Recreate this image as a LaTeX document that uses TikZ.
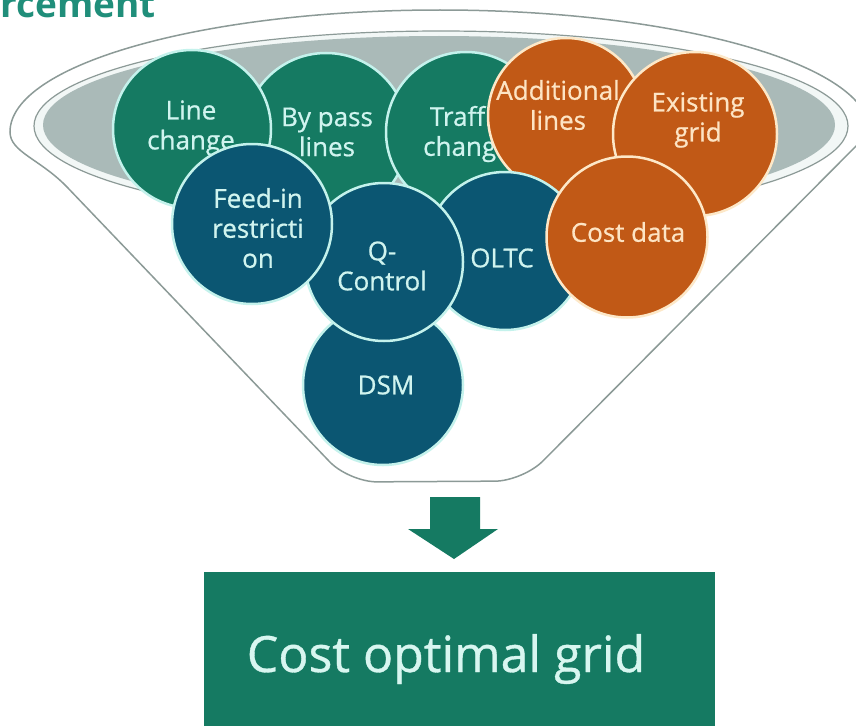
\documentclass[tikz,border=0pt]{standalone}
\usepackage{fontspec}
\setmainfont{Open Sans}
\newfontfamily\ballfont{Open Sans}[FakeBold=0.7]
\definecolor{cgreen}{RGB}{21,122,98}
\definecolor{cblue}{RGB}{11,86,114}
\definecolor{corange}{RGB}{193,89,22}
\definecolor{cyanline}{RGB}{196,242,236}
\definecolor{creamline}{RGB}{253,232,200}
\definecolor{cyantext}{RGB}{208,244,239}
\definecolor{peachtext}{RGB}{253,228,196}
\definecolor{funnelline}{RGB}{140,154,151}
\definecolor{grayfill}{RGB}{170,186,184}
\definecolor{innerfill}{RGB}{242,247,246}
\definecolor{titlegreen}{RGB}{32,142,122}
\definecolor{boxtext}{RGB}{216,246,240}
\tikzset{
  ball/.style={circle, minimum size=160pt, inner sep=0pt, line width=2.5pt},
  gball/.style={ball, fill=cgreen, draw=cyanline},
  bball/.style={ball, fill=cblue, draw=cyanline},
  oball/.style={ball, fill=corange, draw=creamline},
  btext/.style={align=center, inner sep=0pt, font=\ballfont\fontsize{26}{30}\selectfont, text=cyantext},
  otext/.style={btext, text=peachtext},
  funnelstroke/.style={draw=funnelline, line width=1.5pt}
}
\begin{document}
\begin{tikzpicture}[x=1pt,y=-1pt]
\useasboundingbox (0,0) rectangle (856,725);
\clip (0,0) rectangle (856,725);

% title fragment
\node[anchor=base west, inner sep=0pt, font=\fontsize{37}{37}\selectfont\bfseries, text=titlegreen] (title) at (0,18) {rcement};

% funnel outline
\path[funnelstroke, fill=white] (67,187) .. controls (40,159) and (10,152) .. (10,132)
  arc[start angle=180, end angle=360, x radius=430, y radius=122]
  [rounded corners=28] -- (523,481) -- (349,482) -- (67,187);

% inner ring and grey top
\draw[draw=funnelline, line width=1.2pt, fill=innerfill] (441,126) ellipse[x radius=407, y radius=95];
\fill[grayfill] (439,125) ellipse[x radius=396, y radius=89];

% balls, back to front
\node[gball, minimum size=164pt] (bp) at (326,135) {};
\node[btext] (bpt) at (327,132) {By pass\\lines};
\node[gball, minimum size=158pt] (lc) at (192,129) {};
\node[btext] (lct) at (191,128) {Line\\change};
\node[gball] (tc) at (466,132) {};
\node[btext] (tct) at (467,134) {Traffic\\change};
\node[oball, minimum size=156pt] (al) at (566,116) {};
\node[otext] (alt) at (558,105) {Additional\\lines};
\node[oball, minimum size=164pt] (eg) at (695,134) {};
\node[otext] (egt) at (698,120) {Existing\\grid};
\node[bball] (dsm) at (383,385) {};
\node[btext] (dsmt) at (386,385) {DSM};
\node[bball, minimum size=158pt] (oltc) at (505,251) {};
\node[btext] (oltct) at (502,258) {OLTC};
\node[bball, minimum size=158pt] (qc) at (384,262) {};
\node[btext] (qct) at (382,266) {Q-\\Control};
\node[bball] (fi) at (252,224) {};
\node[btext] (fit) at (258,228) {Feed-in\\restricti\\on};
\node[oball, minimum size=161pt] (cd) at (627,237) {};
\node[otext] (cdt) at (628,232) {Cost data};

% block arrow
\fill[cgreen] (430,497) -- (480,497) -- (480,529) -- (498,529) -- (454,559) -- (408,529) -- (430,529) -- cycle;

% result box
\node[fill=cgreen, minimum width=511pt, minimum height=170pt, inner sep=0pt, anchor=north west] (box) at (204,572) {};
\node[anchor=base, inner sep=0pt, font=\ballfont\fontsize{50}{60}\selectfont, text=boxtext] (boxt) at (446,672) {Cost optimal grid};
\end{tikzpicture}
\end{document}
